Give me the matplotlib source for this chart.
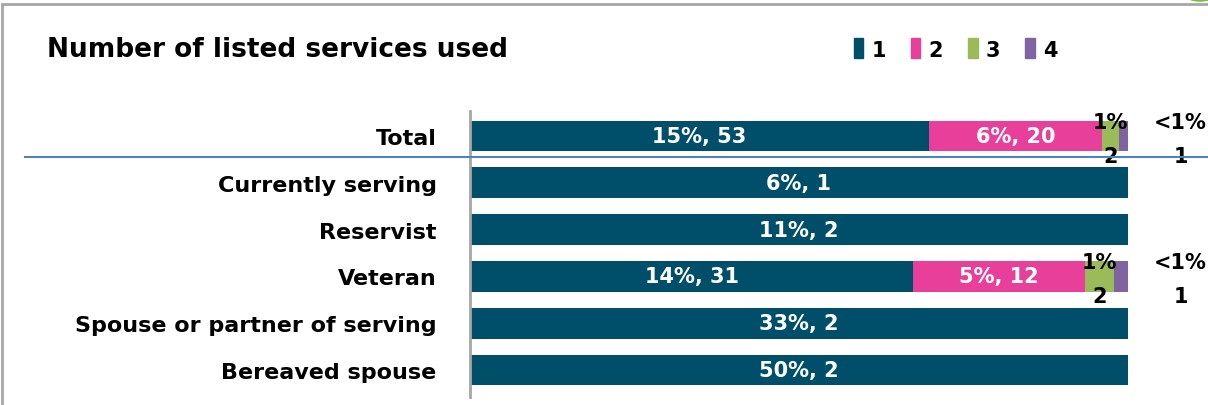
import numpy as np
import matplotlib
matplotlib.use('Agg')
import matplotlib.pyplot as plt
from matplotlib.patches import Rectangle, Circle
from matplotlib.lines import Line2D

# data
categories = ['Total', 'Currently serving', 'Reservist', 'Veteran',
              'Spouse or partner of serving', 'Bereaved spouse']
series = ['1', '2', '3', '4']
counts = [
    [53, 20, 2, 1],
    [1, 0, 0, 0],
    [2, 0, 0, 0],
    [31, 12, 2, 1],
    [2, 0, 0, 0],
    [2, 0, 0, 0],
]
pct_labels = [
    ['15%', '6%', '1%', '<1%'],
    ['6%', '', '', ''],
    ['11%', '', '', ''],
    ['14%', '5%', '1%', '<1%'],
    ['33%', '', '', ''],
    ['50%', '', '', ''],
]
colors = ['#004F6A', '#E8409A', '#9BBB59', '#8064A2']

W, H = 1208, 406
fig = plt.figure(figsize=(W / 100, H / 100), dpi=100)
ax = fig.add_axes([470 / W, 1 - 398 / H, (1128 - 470) / W, (398 - 112) / H])

counts = np.array(counts, dtype=float)
shares = counts / counts.sum(axis=1, keepdims=True)
y = np.arange(len(categories))
left = np.zeros(len(categories))
for j, s in enumerate(series):
    ax.barh(y, shares[:, j], left=left, height=0.66, color=colors[j], label=s)
    for i in range(len(categories)):
        if counts[i, j] == 0:
            continue
        cx = left[i] + shares[i, j] / 2
        if j < 2:
            ax.text(cx, y[i], f'{pct_labels[i][j]}, {int(counts[i, j])}',
                    ha='center', va='center', color='white',
                    fontsize=15, fontweight='bold')
        else:
            tx = cx if j == 2 else 1.08
            ax.text(tx, y[i] - 0.3, pct_labels[i][j], ha='center', va='center',
                    fontsize=15, fontweight='bold', clip_on=False)
            ax.text(tx, y[i] + 0.42, f'{int(counts[i, j])}', ha='center',
                    va='center', fontsize=15, fontweight='bold', clip_on=False)
    left += shares[:, j]

ax.set_xlim(0, 1)
ax.set_ylim(5.577, -0.534)
ax.set_yticks(y)
ax.set_yticklabels(categories, fontsize=16, fontweight='bold')
ax.tick_params(axis='y', length=0, pad=24)
ax.set_xticks([])
for sp in ['top', 'right', 'bottom']:
    ax.spines[sp].set_visible(False)
ax.spines['left'].set_color('#A6A6A6')
ax.spines['left'].set_linewidth(2)

# separator line under Total
fig.add_artist(Line2D([25 / W, 1.0], [1 - 158 / H, 1 - 158 / H],
                      color='#4F81BD', lw=1.5))

# outer frame
fig.add_artist(Rectangle((2 / W, -0.1), 1.2, 1 - 5 / H + 0.1, fill=False,
                         edgecolor='#A6A6A6', lw=2))
fig.add_artist(Circle((1200 / W, 1 + 2 / H), 12 / W, color='#7DBB42',
                      clip_on=False))

fig.text(47 / W, 1 - 50 / H, 'Number of listed services used', fontsize=19,
         fontweight='bold', va='center', ha='left')

handles = [Rectangle((0, 0), 1, 1, color=c) for c in colors]
fig.legend(handles, series, loc='center left', bbox_to_anchor=(835 / W, 1 - 50 / H),
           ncol=4, frameon=False, handlelength=0.45, handleheight=1.1,
           handletextpad=0.4, columnspacing=1.2,
           prop={'size': 15, 'weight': 'bold'})

fig.savefig('out.png', dpi=100)
